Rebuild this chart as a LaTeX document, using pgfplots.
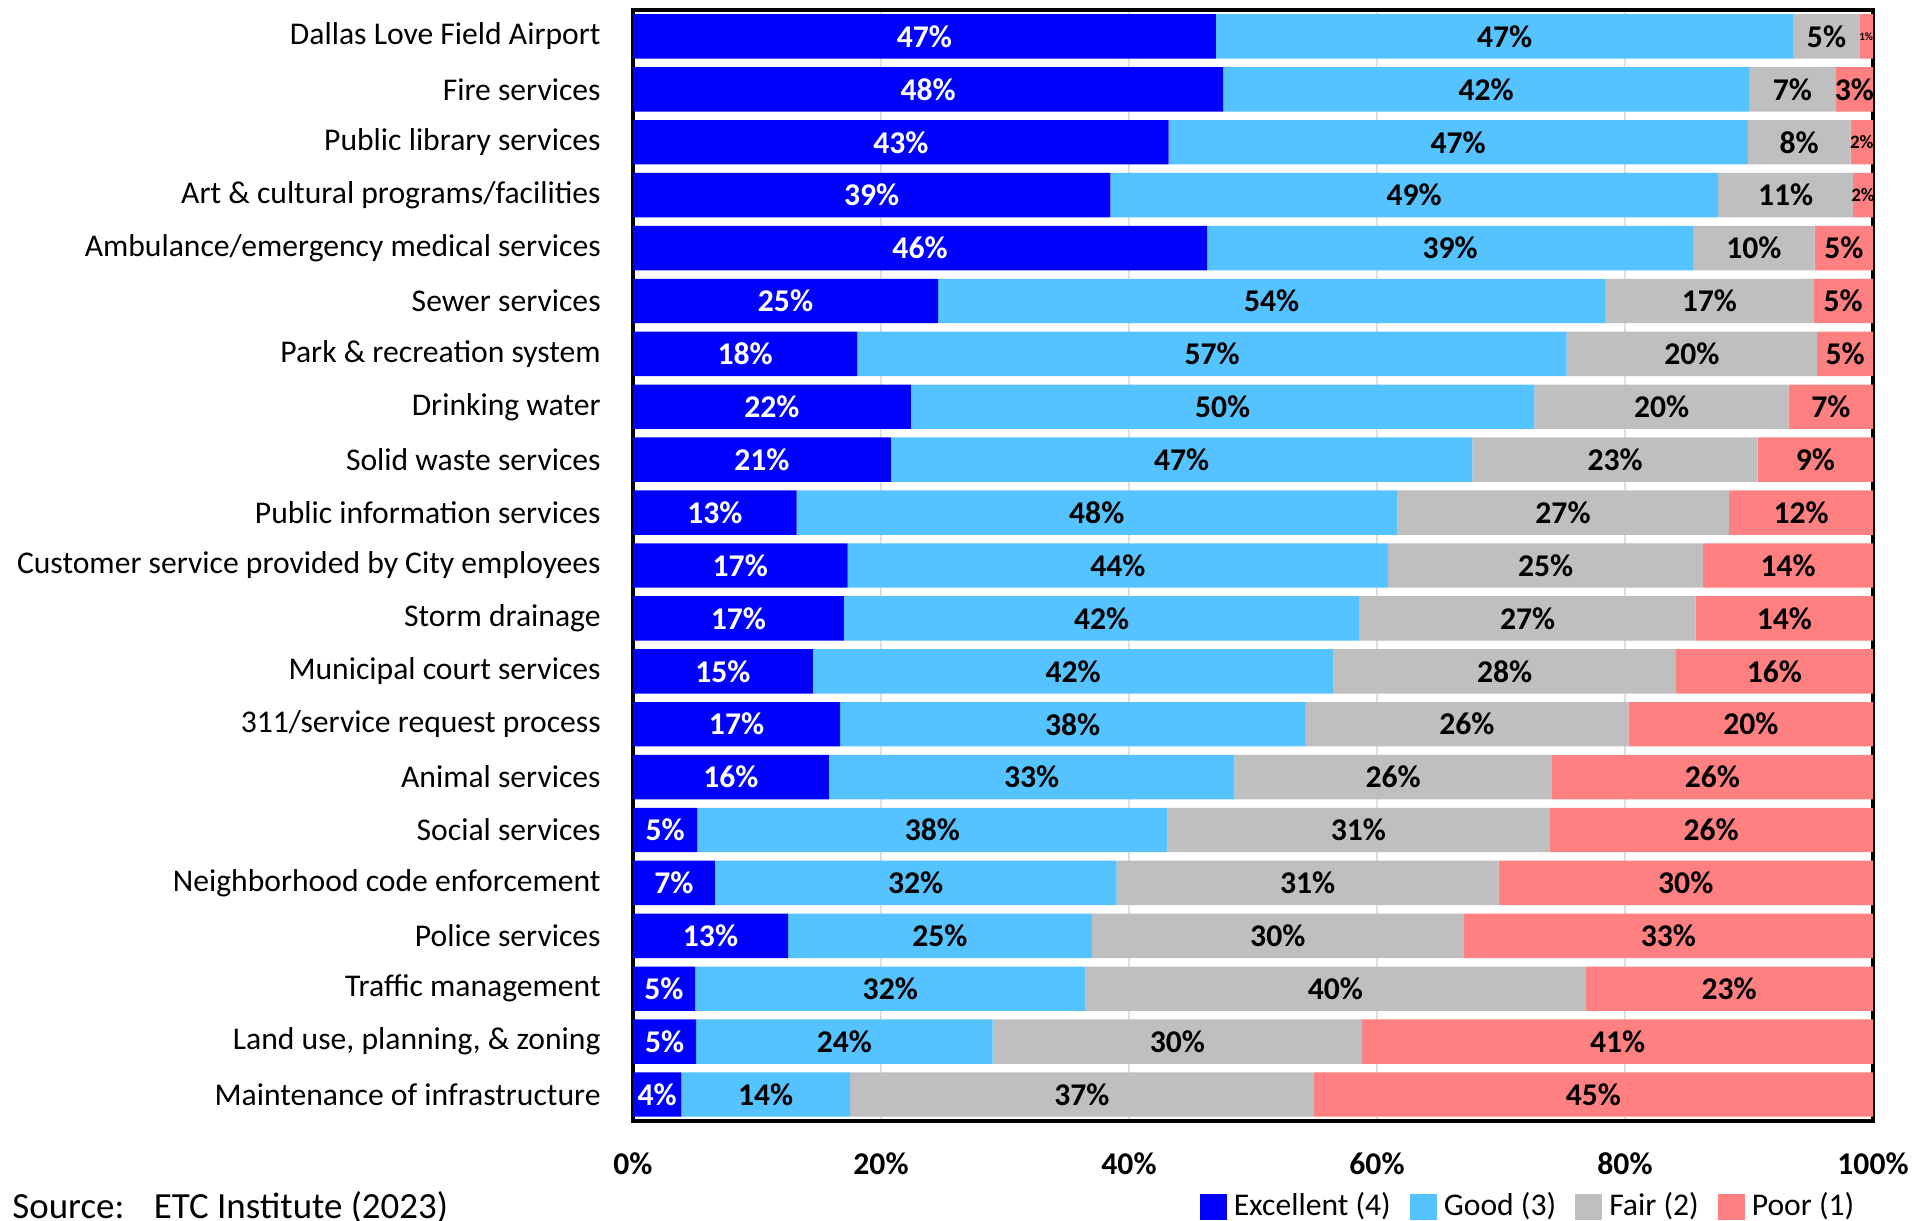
\documentclass[border=0pt]{standalone}
\usepackage{fontspec}
\setmainfont{Carlito}
\usepackage{pgfplots}
\usepackage{pgfplotstable}
\pgfplotsset{compat=1.18}

\definecolor{exc}{RGB}{0,0,255}
\definecolor{good}{RGB}{85,195,255}
\definecolor{fair}{RGB}{191,191,191}
\definecolor{poor}{RGB}{255,128,128}

\newcommand{\nine}{\fontsize{9}{10.8}\selectfont}

\pgfplotsset{sqleg/.style={legend image code/.code={\fill[##1] (0cm,-0.13cm) rectangle (0.27cm,0.13cm);}}}

% share of ratings per service, top row first
\pgfplotstableread{
E    G    F    P    Elab Glab Flab Plab Psz
47.0 46.6 5.3  1.1  47   47   5    1    0.35
47.6 42.4 7.0  3.0  48   42   7    3    1
43.2 46.7 8.3  1.8  43   47   8    2    0.6
38.5 49.0 10.9 1.6  39   49   11   2    0.6
46.3 39.2 9.8  4.7  46   39   10   5    1
24.6 53.8 16.8 4.8  25   54   17   5    1
18.1 57.2 20.2 4.5  18   57   20   5    1
22.4 50.3 20.5 6.8  22   50   20   7    1
20.8 46.9 23.0 9.3  21   47   23   9    1
13.2 48.4 26.8 11.6 13   48   27   12   1
17.3 43.6 25.4 13.7 17   44   25   14   1
17.0 41.6 27.1 14.3 17   42   27   14   1
14.5 42.0 27.6 15.9 15   42   28   16   1
16.7 37.5 26.1 19.7 17   38   26   20   1
15.8 32.7 25.6 25.9 16   33   26   26   1
5.2  37.9 30.8 26.1 5    38   31   26   1
6.6  32.4 30.8 30.2 7    32   31   30   1
12.5 24.5 30.0 33.0 13   25   30   33   1
5.0  31.5 40.3 23.2 5    32   40   23   1
5.1  23.9 29.8 41.2 5    24   30   41   1
3.9  13.6 37.4 45.1 4    14   37   45   1
}\ratings

\begin{document}
\begin{tikzpicture}
\begin{axis}[
  at={(0,0)}, anchor=south west,
  scale only axis, width=12.40cm, height=11.11cm,
  xbar stacked, bar width=0.444cm,
  xmin=0, xmax=100, ymin=-0.5, ymax=20.5, y dir=reverse,
  xtick={0,20,...,100},
  xticklabel={\pgfmathprintnumber[assume math mode=true]{\tick}\%},
  xticklabel style={font=\nine\bfseries, yshift=-1.9mm},
  ytick={0,...,20},
  yticklabels={{Dallas Love Field Airport},{Fire services},{Public library services},
    {Art \& cultural programs/facilities},{Ambulance/emergency medical services},
    {Sewer services},{Park \& recreation system},{Drinking water},{Solid waste services},
    {Public information services},{Customer service provided by City employees},
    {Storm drainage},{Municipal court services},{311/service request process},
    {Animal services},{Social services},{Neighborhood code enforcement},{Police services},
    {Traffic management},{Land use, planning, \& zoning},{Maintenance of infrastructure}},
  yticklabel style={font=\nine, xshift=-2mm},
  major tick length=0pt,
  xmajorgrids, grid style={gray!25, line width=0.5pt},
  set layers, axis line style={line width=1.1pt},
  point meta=explicit symbolic,
  nodes near coords={\pgfplotspointmeta\%},
  every node near coord/.append style={font=\nine\bfseries, anchor=center},
  legend style={at={(1,0)}, anchor=east, xshift=-0.11cm, yshift=-0.86cm,
    draw=none, font=\nine, legend columns=4, inner sep=0pt,
    /tikz/every even column/.append style={column sep=0.12cm}},
]
\addplot[fill=exc, draw=none, sqleg,
  every node near coord/.append style={text=white}]
  table[x=E, y expr=\coordindex, meta=Elab] {\ratings};
\addplot[fill=good, draw=none, sqleg]
  table[x=G, y expr=\coordindex, meta=Glab] {\ratings};
\addplot[fill=fair, draw=none, sqleg]
  table[x=F, y expr=\coordindex, meta=Flab] {\ratings};
\addplot[fill=poor, draw=none, sqleg,
  visualization depends on={\thisrow{Psz}\as\psz},
  every node near coord/.append style={scale=\psz}]
  table[x=P, y expr=\coordindex, meta=Plab] {\ratings};
\legend{Excellent (4),Good (3),Fair (2),Poor (1)}
\end{axis}
\node[anchor=base west, font=\fontsize{10.5}{12}\selectfont] at (-6.33,-0.97)
  {Source:\hspace{0.8em}ETC Institute (2023)};
\pgfresetboundingbox
\path[use as bounding box] (-6.33,-1.00) rectangle (12.98,11.21);
\end{tikzpicture}
\end{document}
